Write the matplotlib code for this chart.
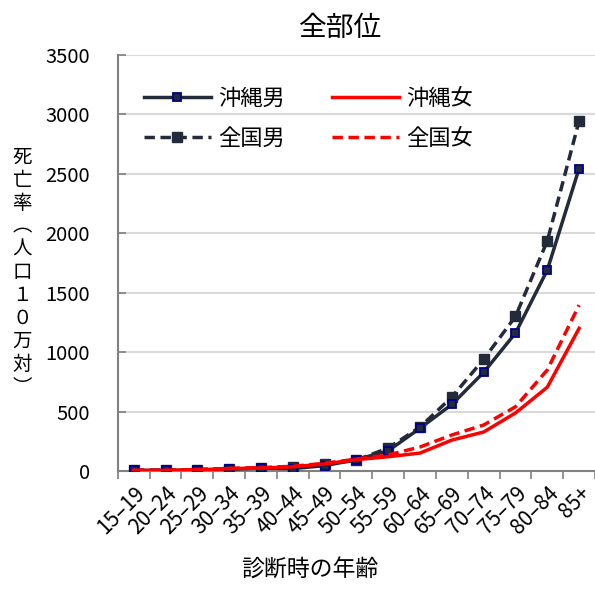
import matplotlib
matplotlib.use('Agg')
import matplotlib.pyplot as plt

plt.rcParams['font.family'] = ['Noto Sans CJK JP', 'DejaVu Sans']

# data (rate per 100k)
age_groups = ['15–19', '20–24', '25–29', '30–34', '35–39', '40–44', '45–49', '50–54',
              '55–59', '60–64', '65–69', '70–74', '75–79', '80–84', '85+']
okinawa_male = [5, 5, 8, 15, 25, 20, 45, 95, 170, 360, 560, 830, 1160, 1690, 2545]
national_male = [7, 8, 12, 18, 25, 35, 55, 92, 193, 370, 622, 940, 1300, 1935, 2945]
okinawa_female = [5, 5, 10, 20, 25, 35, 60, 95, 120, 151, 260, 328, 488, 705, 1200]
national_female = [5, 6, 12, 22, 28, 40, 65, 100, 135, 202, 303, 387, 540, 850, 1396]

navy = '#232b3b'
red = '#ff0000'

fig = plt.figure(figsize=(5.95, 5.92), dpi=100)
ax = fig.add_axes([0.198, 0.2044, 0.802, 0.7027])

x = list(range(len(age_groups)))
ax.plot(x, okinawa_male, color=navy, lw=2.5, marker='s', ms=6,
        mfc=navy, mec='#00008b', mew=1.3, label='沖縄男', zorder=4)
ax.plot(x, national_male, color=navy, lw=2.5, ls=(0, (3, 1.6)), marker='s', ms=7,
        mfc=navy, mec=navy, label='全国男', zorder=3)
ax.plot(x, okinawa_female, color=red, lw=2.5, label='沖縄女', zorder=5)
ax.plot(x, national_female, color=red, lw=2.5, ls=(0, (3, 1.6)), label='全国女', zorder=5)

ax.set_xlim(-0.5, len(age_groups) - 0.5)
ax.set_ylim(0, 3500)
ax.set_yticks(range(0, 3501, 500))
ax.set_xticks(x)
ax.set_xticklabels(age_groups, rotation=45, ha='right', rotation_mode='anchor', fontsize=15)
ax.set_xticks([i - 0.5 for i in range(len(age_groups) + 1)], minor=True)
ax.tick_params(axis='x', which='major', length=0, pad=8)
ax.tick_params(axis='x', which='minor', length=6, color='#808080', direction='out', width=1.2)
ax.tick_params(axis='y', length=6, color='#808080', direction='in', width=1.2, pad=20,
               labelsize=14.5)

ax.grid(axis='y', color='#d9d9d9', lw=1.5)
ax.set_axisbelow(True)
for s in ['top', 'right']:
    ax.spines[s].set_visible(False)
for s in ['left', 'bottom']:
    ax.spines[s].set_color('#808080')
    ax.spines[s].set_linewidth(1.5)

fig.text(0.573, 0.953, '全部位', fontsize=20, ha='center', va='center')
fig.text(0.521, 0.017, '診断時の年齢', fontsize=16.5, ha='center', va='bottom')
fig.text(0.037, 0.54, '\n'.join('死亡率︵人口１０万対︶'), fontsize=14, ha='center',
         va='center', linespacing=1.13)

handles, labels = ax.get_legend_handles_labels()
ax.legend(handles, labels, ncol=2, frameon=False,
          loc='upper left', bbox_to_anchor=(0.013, 0.972), fontsize=16, handlelength=3,
          handletextpad=0.35, columnspacing=2.1, labelspacing=0.78)

fig.savefig('out.png', dpi=100)
